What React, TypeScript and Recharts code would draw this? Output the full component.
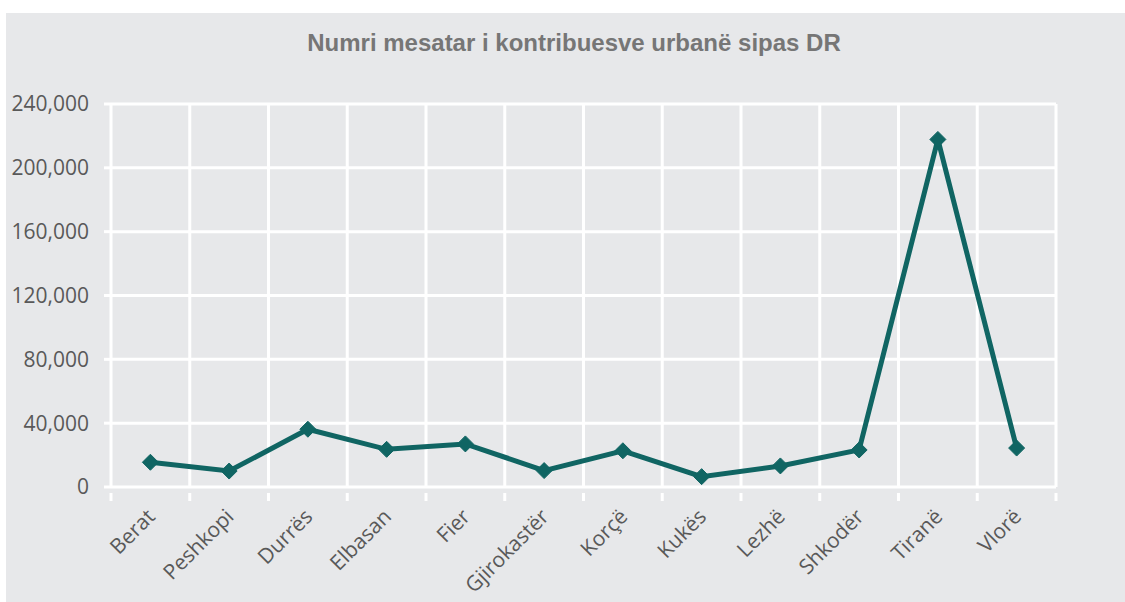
import { CartesianGrid, Line, LineChart, XAxis, YAxis } from "recharts";

const districts = [
  "Berat",
  "Peshkopi",
  "Durrës",
  "Elbasan",
  "Fier",
  "Gjirokastër",
  "Korçë",
  "Kukës",
  "Lezhë",
  "Shkodër",
  "Tiranë",
  "Vlorë",
];

const contributors = [15500, 10000, 36200, 23600, 27000, 10300, 22700, 6500, 13200, 23200, 217800, 24400];

const yTicks = [0, 40000, 80000, 120000, 160000, 200000, 240000];

const data = districts.map((name, i) => ({ name, value: contributors[i] }));

const CHART_W = 1125;
const CHART_H = 602;
const MARGIN = { top: 104, right: 69, bottom: 0, left: 0 };
const Y_AXIS_W = 111;
const X_AXIS_H = 115;
const PLOT_W = CHART_W - MARGIN.left - MARGIN.right - Y_AXIS_W;
const BAND = PLOT_W / districts.length;

const LINE_COLOR = "#106563";
const TEXT_COLOR = "#595959";

const formatThousands = (v: number) => v.toLocaleString("en-US");

const Diamond = (props: any) => {
  const { cx, cy } = props;
  if (cx == null || cy == null) return null;
  const r = 8;
  return (
    <polygon
      points={`${cx},${cy - r} ${cx + r},${cy} ${cx},${cy + r} ${cx - r},${cy}`}
      fill={LINE_COLOR}
      stroke={LINE_COLOR}
      strokeWidth={1}
    />
  );
};

const CategoryTick = (props: any) => {
  const { x, y, payload, index } = props;
  const left = x - BAND / 2;
  return (
    <g>
      <line x1={left} y1={y - 2} x2={left} y2={y + 6} stroke="#ffffff" strokeWidth={3} />
      {index === districts.length - 1 && (
        <line x1={x + BAND / 2} y1={y - 2} x2={x + BAND / 2} y2={y + 6} stroke="#ffffff" strokeWidth={3} />
      )}
      <text
        x={x + 6}
        y={y + 23}
        textAnchor="end"
        fill={TEXT_COLOR}
        fontSize={21}
        fontFamily="'Open Sans', sans-serif"
        transform={`rotate(-45, ${x + 6}, ${y + 23})`}
      >
        {payload.value}
      </text>
    </g>
  );
};

export default function App() {
  return (
    <div style={{ position: "absolute", left: 0, top: 0, width: CHART_W, height: CHART_H, background: "#ffffff" }}>
      <div
        style={{
          position: "absolute",
          left: 6,
          top: 13,
          right: 0,
          bottom: 0,
          background: "#e7e8ea",
        }}
      />
      <div
        style={{
          position: "absolute",
          left: 0,
          top: 29,
          width: 1148,
          textAlign: "center",
          fontFamily: "'Liberation Sans', Arial, sans-serif",
          fontWeight: "bold",
          fontSize: 24,
          color: "#767676",
        }}
      >
        Numri mesatar i kontribuesve urbanë sipas DR
      </div>
      <div style={{ position: "absolute", left: 0, top: 0 }}>
        <LineChart width={CHART_W} height={CHART_H} data={data} margin={MARGIN}>
          <CartesianGrid
            stroke="#ffffff"
            strokeWidth={3}
            verticalCoordinatesGenerator={({ offset }: any) =>
              Array.from({ length: districts.length + 1 }, (_, i) => offset.left + i * (offset.width / districts.length))
            }
          />
          <XAxis
            dataKey="name"
            height={X_AXIS_H}
            axisLine={false}
            tickLine={false}
            interval={0}
            padding={{ left: BAND / 2, right: BAND / 2 }}
            tick={<CategoryTick />}
          />
          <YAxis
            width={Y_AXIS_W}
            domain={[0, 240000]}
            ticks={yTicks}
            tickFormatter={formatThousands}
            axisLine={false}
            tickLine={{ stroke: "#ffffff", strokeWidth: 3 }}
            tickSize={7}
            tickMargin={15}
            tick={{ fill: TEXT_COLOR, fontSize: 21, fontFamily: "'Open Sans', sans-serif" }}
          />
          <Line
            type="linear"
            dataKey="value"
            stroke={LINE_COLOR}
            strokeWidth={5}
            dot={<Diamond />}
            activeDot={false}
            isAnimationActive={false}
          />
        </LineChart>
      </div>
    </div>
  );
}
